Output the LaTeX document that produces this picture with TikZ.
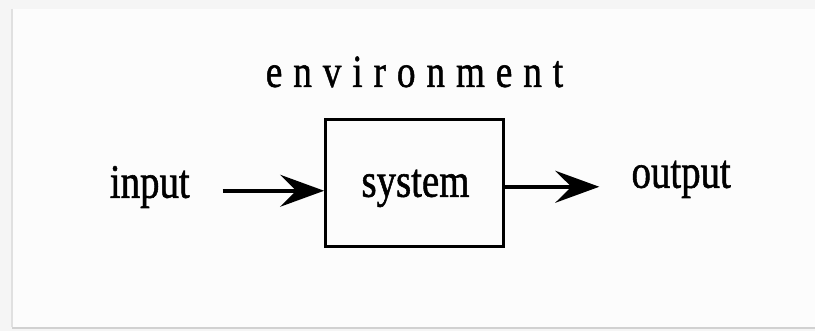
\documentclass[tikz,border=0pt]{standalone}
\usepackage{fontspec}
\usepackage{graphicx}
\setmainfont[FakeBold=1.2]{Liberation Serif}
\usetikzlibrary{arrows.meta}
\newcommand{\envgap}{\hspace{13.5pt}}
\begin{document}
\begin{tikzpicture}[x=1pt,y=-1pt,
  lbl/.style={inner sep=0pt,anchor=base,font=\fontsize{48}{48}\selectfont},
  sysbox/.style={draw=black,line width=3pt,minimum width=178pt,minimum height=127pt,inner sep=0pt},
  flow/.style={line width=3.5pt,-{Stealth[length=44pt,width=32pt,inset=16pt]}}]
  % background and faint page frame
  \fill[white!96!black] (0,0) rectangle (816,331);
  \fill[white!99!black] (13,9) rectangle (816,327);
  \draw[white!88!black,line width=1.5pt] (12,9) -- (12,327);
  \draw[white!82!black,line width=2pt] (12,328) -- (816,328);
  \useasboundingbox (0,0) rectangle (816,331);
  % diagram
  \node[lbl,font=\fontsize{46}{46}\selectfont] (env) at (415,87)
    {\scalebox{0.81}[1]{e\envgap n\envgap v\envgap i\envgap r\envgap o\envgap n\envgap m\envgap e\envgap n\envgap t}};
  \node[sysbox] (sys) at (415,183.5) {};
  \node[lbl] (syslabel) at (416,197) {\scalebox{0.81}[1]{system}};
  \node[lbl] (inlabel) at (150,198) {\scalebox{0.81}[1]{input}};
  \node[lbl] (outlabel) at (682,188) {\scalebox{0.81}[1]{output}};
  \coordinate (inA) at (223,191);
  \coordinate (outA) at (600,187);
  \draw[flow] (inA) -- (inA -| sys.west);
  \draw[flow] (sys.east |- outA) -- (outA);
\end{tikzpicture}
\end{document}
